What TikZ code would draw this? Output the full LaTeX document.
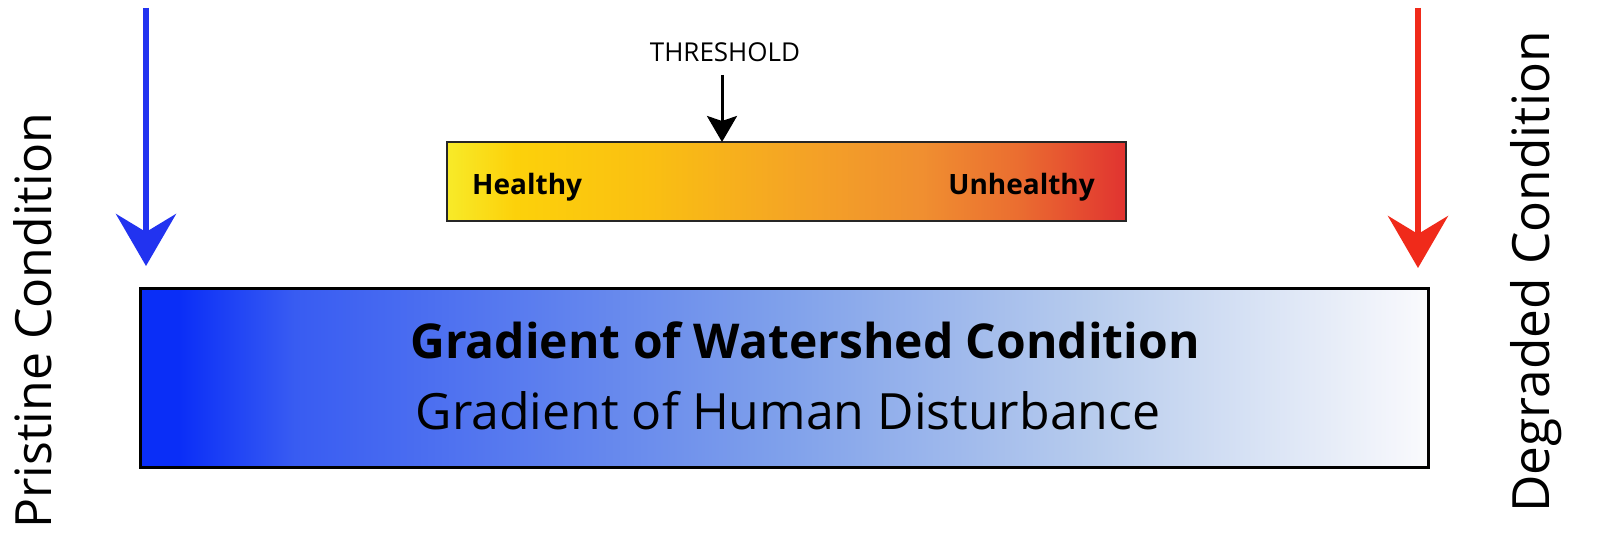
\documentclass[tikz,border=0pt]{standalone}
\usepackage{fontspec}
\setmainfont{Open Sans}
\usetikzlibrary{arrows.meta}
\pgfdeclarehorizontalshading{bluegrad}{100bp}{rgb(0bp)=(0.04,0.18,0.97); rgb(26.5bp)=(0.04,0.18,0.97); rgb(31bp)=(0.22,0.36,0.95); rgb(50bp)=(0.5,0.63,0.92); rgb(62bp)=(0.72,0.8,0.93); rgb(75bp)=(0.98,0.98,0.99); rgb(100bp)=(0.98,0.98,0.99)}
\pgfdeclarehorizontalshading{heatgrad}{100bp}{rgb(0bp)=(0.97,0.92,0.16); rgb(25bp)=(0.97,0.92,0.16); rgb(30bp)=(0.99,0.82,0.04); rgb(40bp)=(0.98,0.75,0.07); rgb(50bp)=(0.96,0.65,0.14); rgb(60bp)=(0.94,0.56,0.19); rgb(67bp)=(0.92,0.43,0.19); rgb(75bp)=(0.88,0.2,0.19); rgb(100bp)=(0.88,0.2,0.19)}
\tikzset{
  bigbar/.style={draw=black, line width=3pt, shading=bluegrad, minimum width=1288pt, minimum height=179pt, inner sep=0pt},
  heatbar/.style={draw=black!85, line width=2pt, shading=heatgrad, minimum width=679pt, minimum height=79pt, inner sep=0pt},
  sidelabel/.style={rotate=90, anchor=base, inner sep=0pt, font=\fontsize{50}{55}\selectfont},
  bigarrow/.style={line width=6pt, -{Stealth[length=52pt, width=60pt, inset=18pt]}},
  thrarrow/.style={line width=3pt, -{Stealth[length=26pt, width=30pt, inset=5pt]}},
  barlabel/.style={anchor=base, inner sep=0pt, font=\fontsize{28}{32}\selectfont\bfseries},
}
\begin{document}
\begin{tikzpicture}[x=1pt, y=-1pt]
\useasboundingbox (0,0) rectangle (1604,540);
\fill[white] (0,0) rectangle (1604,540);
% bars
\node[bigbar] (bar) at (784,377.5) {};
\node[heatbar] (heat) at (786.5,181.5) {};
% bar texts
\node[anchor=base, inner sep=0pt, font=\fontsize{48}{52}\selectfont\bfseries] (title) at (805,358) {Gradient of Watershed Condition};
\node[anchor=base, inner sep=0pt, font=\fontsize{50}{54}\selectfont] (sub) at (788,429) {Gradient of Human Disturbance};
\node[barlabel, anchor=base west] (healthy) at (472,195) {Healthy};
\node[barlabel, anchor=base east] (unhealthy) at (1095,195) {Unhealthy};
% threshold
\node[anchor=base, inner sep=0pt, font=\fontsize{26}{30}\selectfont] (thr) at (725,62) {THRESHOLD};
\coordinate (thrtop) at (722,75);
\coordinate (thrtip) at (722,142);
\draw[thrarrow] (thrtop) -- (thrtip);
% side arrows
\coordinate (bstart) at (146,8);
\coordinate (btip) at (146,266);
\coordinate (rstart) at (1418,8);
\coordinate (rtip) at (1418,268);
\draw[bigarrow, color={rgb,255:red,34;green,51;blue,240}] (bstart) -- (btip);
\draw[bigarrow, color={rgb,255:red,240;green,42;blue,26}] (rstart) -- (rtip);
% side labels
\node[sidelabel] (pristine) at (51,321) {Pristine Condition};
\node[sidelabel, font=\fontsize{51.4}{56}\selectfont] (degraded) at (1549,272) {Degraded Condition};
\end{tikzpicture}
\end{document}
